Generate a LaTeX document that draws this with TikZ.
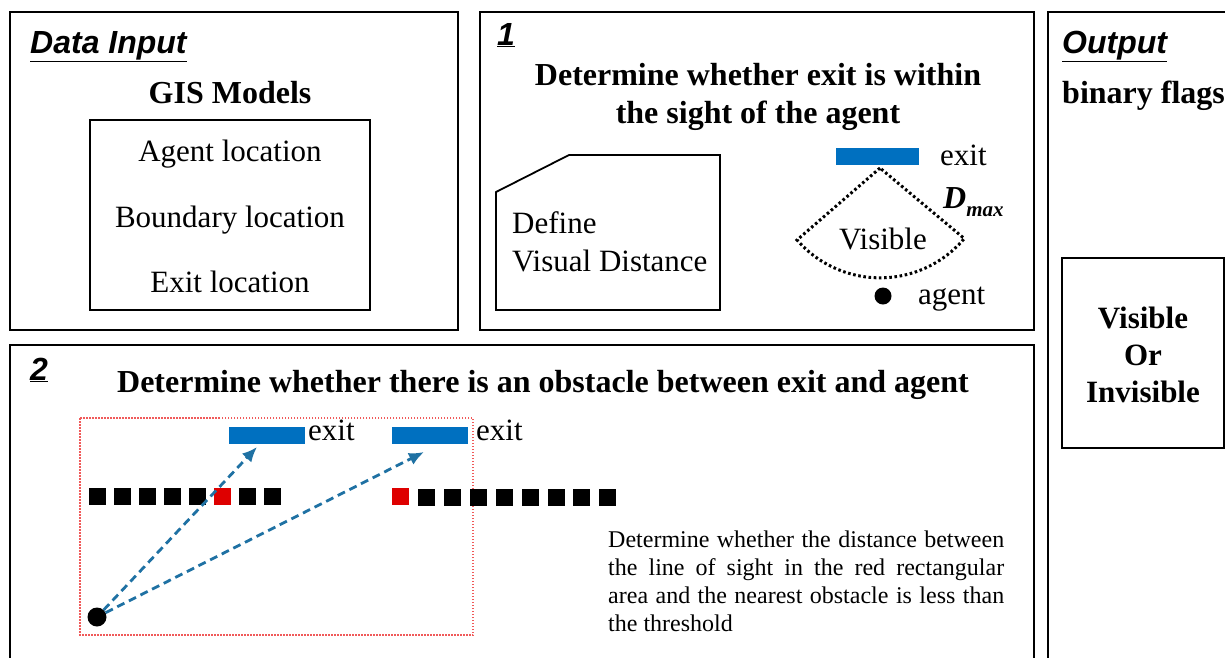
\documentclass[tikz,border=0pt]{standalone}
\usepackage{fontspec}
\setmainfont{Liberation Serif}
\setsansfont{Liberation Sans}
\usepackage{xcolor}
\definecolor{exitblue}{RGB}{0, 112, 192}
\definecolor{sightblue}{RGB}{31, 113, 163}
\definecolor{hitred}{RGB}{222, 0, 0}
\definecolor{areared}{RGB}{240, 90, 90}
\usetikzlibrary{positioning, arrows.meta, calc}

\begin{document}
\begin{tikzpicture}[
    x=1pt, y=-1pt,
    panel/.style={draw, line width=2.3pt},
    innerbox/.style={draw, line width=1.8pt},
    head/.style={font=\fontsize{32}{36}\selectfont\sffamily\bfseries\itshape, anchor=base west, inner sep=0pt},
    title/.style={font=\fontsize{32}{38}\selectfont\bfseries, align=center, inner sep=0pt},
    label/.style={font=\fontsize{31}{38}\selectfont, inner sep=0pt},
    exitbar/.style={fill=exitblue, minimum width=83pt, minimum height=17pt, inner sep=0pt},
    wall/.style={fill=black, minimum size=17pt, inner sep=0pt},
    agentdot/.style={circle, fill=black, minimum size=17pt, inner sep=0pt},
    sight/.style={-{Latex[length=15pt, width=13pt]}, sightblue, line width=2.8pt, dash pattern=on 8pt off 5pt}
]
    \useasboundingbox (0,0) rectangle (1225,657);
    \clip (0,0) rectangle (1225,657);

    % panels
    \draw[panel] (10,12) rectangle (458,330);
    \draw[panel] (480,12) rectangle (1034,330);
    \draw[panel] (1048,12) rectangle (1245,680);
    \draw[panel] (10,345) rectangle (1034,680);

    % data input
    \node[head] (inhead) at (30,53) {\underline{Data Input}};
    \node[title, anchor=base] (gis) at (230,103) {GIS Models};
    \draw[innerbox] (90,120) rectangle (370,310);
    \node[label, anchor=base] (agentloc) at (230,161) {Agent location};
    \node[label, anchor=base] (boundloc) at (230,227) {Boundary location};
    \node[label, anchor=base] (exitloc) at (230,292) {Exit location};

    % step 1
    \node[head] (stepone) at (497,45) {\underline{1}};
    \node[title, anchor=north] (onetitle) at (758,63) {Determine whether exit is within\\the sight of the agent};
    \draw[innerbox] (496,192) -- (569,155) -- (720,155) -- (720,310) -- (496,310) -- cycle;
    \node[label, anchor=north west, align=left] (visdist) at (512,211) {Define\\Visual Distance};
    \node[exitbar] (exitone) at (877.5,156.5) {};
    \node[label, anchor=base west] (exitonelbl) at (940,165) {exit};
    \coordinate (apex) at (880,168);
    \draw[line width=3pt, dash pattern=on 2.6pt off 2.6pt] (apex) -- (797,240) arc[start angle=-139, end angle=-40, radius=110pt] -- cycle;
    \node[label, anchor=base] (visible) at (883,249) {Visible};
    \node[anchor=base west, inner sep=0pt, font=\fontsize{32}{36}\selectfont\bfseries\itshape] (dmax) at (943,208) {D\raisebox{-8pt}{\fontsize{21}{24}\selectfont max}};
    \node[agentdot] (agentone) at (883,296) {};
    \node[label, anchor=base west] (agentonelbl) at (918,304) {agent};

    % output
    \node[head] (outhead) at (1062,53) {\underline{Output}};
    \node[title, anchor=base west] (flags) at (1062,103) {binary flags};
    \draw[innerbox] (1062,258) rectangle (1224,448);
    \node[title, font=\fontsize{31}{37}\selectfont\bfseries] (result) at (1143,355) {Visible\\Or\\Invisible};

    % step 2
    \node[head] (steptwo) at (30,380) {\underline{2}};
    \node[title, anchor=base] (twotitle) at (543,392) {Determine whether there is an obstacle between exit and agent};
    \draw[areared, dash pattern=on 1.5pt off 1.5pt, line width=1.2pt] (80,418) rectangle (473,635);
    \node[exitbar, minimum width=76pt] (exitA) at (267,435) {};
    \node[exitbar, minimum width=76pt] (exitB) at (430,435) {};
    \node[label, anchor=base west] (exitAlbl) at (308,440) {exit};
    \node[label, anchor=base west] (exitBlbl) at (476,440) {exit};
    \foreach \i in {0,1,2,3,4,6,7}
        \node[wall] (wallA\i) at (97.5+25*\i,496.5) {};
    \node[wall, fill=hitred] (hitA) at (222.5,496.5) {};
    \node[wall, fill=hitred] (hitB) at (400.5,496.5) {};
    \foreach \i in {0,...,7}
        \node[wall] (wallB\i) at (426.5+25.9*\i,497) {};
    \node[agentdot, minimum height=19pt] (agenttwo) at (97,617) {};
    \coordinate (tipA) at (257,447);
    \coordinate (tipB) at (424,452);
    \draw[sight] (agenttwo) -- (tipA);
    \draw[sight] (agenttwo) -- (tipB);
    \node[anchor=north west, text width=396pt, align=justify, inner sep=0pt, font=\fontsize{24}{28}\selectfont] (rule) at (608,530.5)
        {Determine whether the distance between\linebreak the line of sight in the red rectangular\linebreak area and the nearest obstacle is less than\linebreak the threshold};
\end{tikzpicture}
\end{document}
